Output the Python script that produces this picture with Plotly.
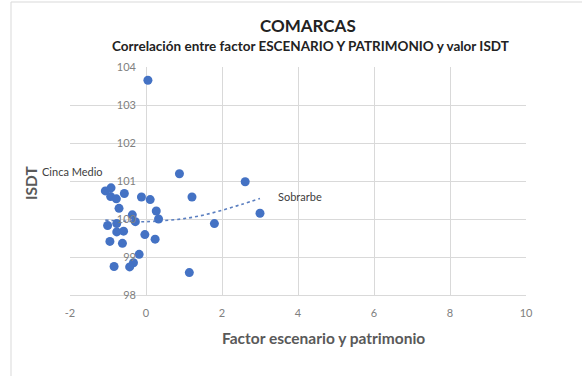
import plotly.graph_objects as go

# Factor "escenario y patrimonio" (x) and ISDT value (y) per comarca
factor = [0.05, 0.88, 2.61, -1.07, -0.92, -0.93, -0.78, -0.57, -0.12, 0.11,
          1.21, -0.71, 0.27, -0.36, 0.33, -0.28, 3.00, 1.80, -1.01, -0.77,
          -0.77, -0.59, -0.03, 0.24, -0.95, -0.62, -0.18, -0.84, -0.33, -0.43,
          1.14]
isdt = [103.65, 101.19, 100.98, 100.74, 100.82, 100.59, 100.53, 100.67, 100.58, 100.51,
        100.58, 100.28, 100.21, 100.11, 100.00, 99.93, 100.15, 99.88, 99.83, 99.88,
        99.66, 99.68, 99.59, 99.47, 99.41, 99.36, 99.07, 98.75, 98.85, 98.74,
        98.59]

# Polynomial trend line (Excel-style), sampled along its course
trend_x = [-1.07, -0.75, -0.5, -0.25, 0.0, 0.5, 1.0, 1.5, 2.0, 2.5, 3.0]
trend_y = [99.97, 99.95, 99.94, 99.93, 99.93, 99.96, 100.01, 100.10, 100.23, 100.38, 100.54]

x_ticks = [-2, 0, 2, 4, 6, 8, 10]
y_ticks = [98, 99, 100, 101, 102, 103, 104]

labelled = {"Cinca Medio": (-1.07, 100.74, -33, 19),
            "Sobrarbe": (3.00, 100.15, 40, 17)}

FONT = "Lato"
GRID = "#d9d9d9"
TICK = "#808080"
BLUE = "#4472c4"

fig = go.Figure()
fig.add_trace(go.Scatter(x=trend_x, y=trend_y, mode="lines", line_shape="spline",
                         line=dict(color="#5b7fc0", width=1.6, dash="dot"),
                         hoverinfo="skip"))
fig.add_trace(go.Scatter(x=factor, y=isdt, mode="markers",
                         marker=dict(color=BLUE, size=9)))

W, H = 582, 376
L, R, T, B = 70, 56, 67, 81
pw, ph = W - L - R, H - T - B


def px(xp):
    return (xp - L) / pw


def py(yp):
    return (H - B - yp) / ph


annotations = [
    dict(text="<b>COMARCAS</b>", x=px(308), y=py(25), font=dict(size=17, color="#222222")),
    dict(text="<b>Correlación entre factor ESCENARIO Y PATRIMONIO y valor ISDT</b>",
         x=px(310), y=py(46), font=dict(size=13.5, color="#222222")),
    dict(text="<b>Factor escenario y patrimonio</b>", x=px(323), y=py(338),
         font=dict(size=15.5, color="#595959")),
    dict(text="<b>ISDT</b>", x=px(31), y=py(183), textangle=-90,
         font=dict(size=15.5, color="#595959")),
]
for a in annotations:
    a.update(xref="paper", yref="paper", showarrow=False,
             xanchor="center", yanchor="middle")

for name, (lx, ly, dx, dy) in labelled.items():
    annotations.append(dict(text=name, x=lx, y=ly, xref="x", yref="y",
                            xshift=dx, yshift=dy, showarrow=False,
                            xanchor="center", yanchor="middle",
                            font=dict(size=11, color="#404040")))

fig.update_layout(
    width=W, height=H,
    margin=dict(l=L, r=R, t=T, b=B),
    paper_bgcolor="white", plot_bgcolor="white",
    font=dict(family=FONT, color=TICK, size=11),
    showlegend=False,
    annotations=annotations,
    shapes=[dict(type="rect", xref="paper", yref="paper",
                 x0=px(11), x1=px(640), y0=py(400), y1=py(2),
                 line=dict(color=GRID, width=1), fillcolor="rgba(0,0,0,0)",
                 layer="below")],
    xaxis=dict(range=[-2, 10], tickvals=x_ticks, ticktext=[str(v) for v in x_ticks],
               showgrid=True, gridcolor=GRID, gridwidth=1,
               zeroline=True, zerolinecolor=GRID, zerolinewidth=1,
               showline=True, linecolor=GRID, linewidth=1,
               ticks="", ticklabelstandoff=8, domain=[0, 1],
               tickfont=dict(family=FONT, size=11, color=TICK)),
    yaxis=dict(range=[98, 104], tickvals=y_ticks, ticktext=[str(v) for v in y_ticks],
               showgrid=True, gridcolor=GRID, gridwidth=1,
               zeroline=False, showline=False,
               anchor="free", position=2 / 12,
               ticks="", ticklabelstandoff=10,
               tickfont=dict(family=FONT, size=11, color=TICK)),
)

fig.write_html("out.html")
